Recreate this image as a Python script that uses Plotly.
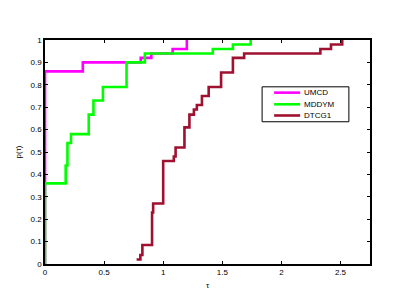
import plotly.graph_objects as go

umcd_x = [0, 0, 0.32, 0.81, 0.90, 1.08, 1.20]
umcd_y = [0, 0.86, 0.90, 0.92, 0.94, 0.96, 1.0]

mddym_x = [0, 0, 0.175, 0.19, 0.22, 0.37, 0.41, 0.49, 0.69, 0.845, 1.42, 1.59, 1.74]
mddym_y = [0, 0.36, 0.44, 0.54, 0.58, 0.667, 0.73, 0.79, 0.90, 0.94, 0.96, 0.98, 1.0]

dtcg1_x = [0.775, 0.807, 0.824, 0.906, 0.915, 1.0, 1.09, 1.105, 1.18, 1.222, 1.26, 1.285,
           1.328, 1.385, 1.49, 1.59, 1.685, 2.33, 2.42, 2.515]
dtcg1_y = [0.02, 0.04, 0.085, 0.23, 0.27, 0.46, 0.48, 0.52, 0.61, 0.667, 0.69, 0.71,
           0.75, 0.79, 0.855, 0.92, 0.94, 0.96, 0.98, 1.0]

series_names = ["UMCD", "MDDYM", "DTCG1"]
series_colors = ["#ff00ff", "#00ff00", "#a01030"]
series_x = [umcd_x, mddym_x, dtcg1_x]
series_y = [umcd_y, mddym_y, dtcg1_y]

x_ticks = [0, 0.5, 1, 1.5, 2, 2.5]
y_ticks = [0, 0.1, 0.2, 0.3, 0.4, 0.5, 0.6, 0.7, 0.8, 0.9, 1]

fig = go.Figure()
for name, xs, ys, col in zip(series_names, series_x, series_y, series_colors):
    fig.add_trace(go.Scatter(x=xs, y=ys, name=name, mode="lines", showlegend=False,
                             line=dict(color=col, width=2.6, shape="hv")))

font = dict(family="Liberation Sans, Arial, sans-serif", size=8, color="black")

# compact legend drawn in paper coordinates
leg_x0, leg_x1, leg_y0, leg_y1 = 0.668, 0.935, 0.635, 0.791
entry_y = [0.765, 0.713, 0.663]
shapes = [dict(type="rect", xref="paper", yref="paper", x0=leg_x0, x1=leg_x1,
               y0=leg_y0, y1=leg_y1, line=dict(color="black", width=1),
               fillcolor="white", layer="above")]
annotations = []
for name, col, ey in zip(series_names, series_colors, entry_y):
    shapes.append(dict(type="line", xref="paper", yref="paper", x0=0.705, x1=0.785,
                       y0=ey, y1=ey, line=dict(color=col, width=2.6), layer="above"))
    annotations.append(dict(xref="paper", yref="paper", x=0.792, y=ey,
                            xanchor="left", yanchor="middle", text=name,
                            showarrow=False, font=font))

fig.update_layout(
    width=400, height=301,
    margin=dict(l=45, r=30, t=40, b=31),
    paper_bgcolor="white", plot_bgcolor="white",
    font=font,
    showlegend=False,
    shapes=shapes,
    annotations=annotations,
)
fig.update_xaxes(range=[0, 2.75], tickvals=x_ticks, ticktext=[str(v) for v in x_ticks],
                 ticks="inside", ticklen=3, tickcolor="black", showline=True,
                 linecolor="black", linewidth=1.5, mirror="ticks", showgrid=False,
                 zeroline=False, title=dict(text="τ", standoff=6, font=font))
fig.update_yaxes(range=[0, 1], tickvals=y_ticks, ticktext=[("%g" % v) for v in y_ticks],
                 ticks="inside", ticklen=3, tickcolor="black", showline=True,
                 linecolor="black", linewidth=1.5, mirror="ticks", showgrid=False,
                 zeroline=False, title=dict(text="p(τ)", standoff=8, font=font))
fig.write_html("out.html", config={"displayModeBar": False},
               post_script="document.body.style.margin='0';")
